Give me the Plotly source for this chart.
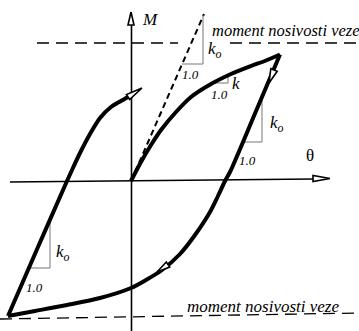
import plotly.graph_objects as go

# ---- data (theta, M) in drawing units, origin at axes crossing ----
load_theta = [0, 10, 20, 30, 45, 60, 80, 100, 120, 135, 149]
load_M = [0, 19, 36, 51, 69, 84, 97, 107, 115, 120.5, 126.5]

unload_theta = [149, 124, 99, 94, 87, 79, 64, 49, 31, 15, 0, -31, -64, -96, -123]
unload_M = [126.5, 67.5, 9, 0, -15, -31, -54, -73, -89, -99, -107, -117, -124, -130, -135]

reload_theta = [-123, -93, -64, -59, -51, -41, -31, -20, -10, -3]
reload_M = [-135, -66, 0, 11, 28, 47, 63, 74, 80, 84]

tangent_theta = [4, 73]
tangent_M = [9, 167]

cap_upper_theta = [[-94, 47], [99, 228]]
cap_upper_M = [138, 138]
cap_lower_theta = [-131, 228]
cap_lower_M = [-138, -132]

# stiffness triangles (thin lines)
tri_top_theta = [51, 72, 72]
tri_top_M = [117, 117, 166]
tri_k_theta = [79, 97, 97]
tri_k_M = [98, 98, 105]
tri_right_theta = [112, 131, 131]
tri_right_M = [39, 39, 84]
tri_left_theta = [-102, -81, -81]
tri_left_M = [-87, -87, -38]

# arrowheads (open triangles)
arrows = [
    ([0, -3, 3, 0], [169, 156, 156, 169]),                     # M axis
    ([199, 182, 182, 199], [2.5, 5.5, -0.5, 2.5]),             # theta axis
    ([11, -4.6, -1.4, 11], [93, 86.5, 81.5, 93]),              # reload end
    ([138, 146.2, 139.8, 138], [98, 109.7, 112.3, 98]),        # unloading
    ([26, 38.7, 35.3, 26], [-91, -86, -81, -91]),              # lower branch
]

axis_theta_x = [-121, 182]
axis_theta_y = [-1, 2]
axis_M_x = [0.5, 0.5]
axis_M_y = [-150, 156]

labels = [
    ("<i>M</i>", 19, 162, 17),
    ("θ", 179, 26, 17),
    ("<i>k</i><sub><i>o</i></sub>", 84, 131, 17),
    ("<i>1.0</i>", 59, 107, 13),
    ("<i>k</i>", 105, 98, 17),
    ("<i>1.0</i>", 88, 87, 13),
    ("<i>k</i><sub><i>o</i></sub>", 146, 57, 17),
    ("<i>1.0</i>", 116, 21, 13),
    ("<i>k</i><sub><i>o</i></sub>", -68, -72, 17),
    ("<i>1.0</i>", -97, -106, 13),
]
cap_text = "moment nosivosti veze"

fig = go.Figure()

def line(x, y, w, color="black", dash=None, shape="linear"):
    fig.add_trace(go.Scatter(x=x, y=y, mode="lines", hoverinfo="skip",
                             line=dict(width=w, color=color, dash=dash, shape=shape,
                                       smoothing=0.8 if shape == "spline" else None)))

# axes
line(axis_theta_x, axis_theta_y, 1.6)
line(axis_M_x, axis_M_y, 1.6)

# capacity lines
for seg in cap_upper_theta:
    line(seg, cap_upper_M, 1.3, dash="12px,7px")
line(cap_lower_theta, cap_lower_M, 1.3, dash="12px,7px")

# tangent
line(tangent_theta, tangent_M, 2, dash="6px,4px")

# triangles
for tx, ty in [(tri_top_theta, tri_top_M), (tri_k_theta, tri_k_M),
               (tri_right_theta, tri_right_M), (tri_left_theta, tri_left_M)]:
    line(tx, ty, 1, color="#777777")

# hysteresis curves
line(load_theta, load_M, 4, shape="spline")
line(unload_theta, unload_M, 4, shape="spline")
line(reload_theta, reload_M, 4, shape="spline")

for ax_, ay_ in arrows:
    fig.add_trace(go.Scatter(x=ax_, y=ay_, mode="lines", fill="toself", fillcolor="white",
                             hoverinfo="skip", line=dict(color="black", width=1.6)))

for txt, x, y, s in labels:
    fig.add_annotation(x=x, y=y, text=txt, showarrow=False,
                       font=dict(family="Liberation Serif", size=s, color="black"))

fig.add_annotation(x=79, y=151, text="<i>" + cap_text + "</i>", showarrow=False, xanchor="left",
                   font=dict(family="Liberation Serif", size=16.5, color="black"))
fig.add_annotation(x=54, y=-125, text="<i>" + cap_text + "</i>", showarrow=False, xanchor="left",
                   font=dict(family="Liberation Serif", size=17, color="black"))

fig.update_layout(width=359, height=331, margin=dict(l=0, r=0, t=0, b=0),
                  paper_bgcolor="white", plot_bgcolor="white", showlegend=False,
                  xaxis=dict(range=[-131, 228], visible=False, fixedrange=True),
                  yaxis=dict(range=[-150, 181], visible=False, fixedrange=True))

fig.write_html("out.html", config={"displayModeBar": False},
               post_script="document.body.style.margin='0';document.body.style.overflow='hidden';")
